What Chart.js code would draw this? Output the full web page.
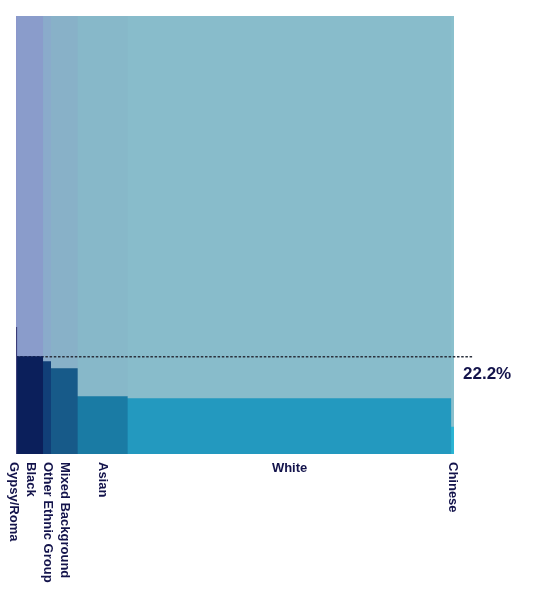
<!DOCTYPE html>
<html>
<head>
<meta charset="utf-8">
<script src="https://cdn.jsdelivr.net/npm/chart.js@4"></script>
<style>
html,body{margin:0;padding:0;background:#fff;}
#wrap{width:540px;height:600px;}
</style>
</head>
<body>
<div id="wrap"><canvas id="c" width="540" height="600"></canvas></div>
<script>
// ---- data ----
const categories = ['Gypsy/Roma','Black','Other Ethnic Group','Mixed Background','Asian','White','Chinese'];
const popShare = [0.3, 5.9, 1.8, 6.1, 11.4, 73.8, 0.6];   // width of each column (share of population, %)
const rates = [29.0, 22.3, 21.2, 19.6, 13.2, 12.7, 6.2];   // height of each column (%)
const averageRate = 22.2;
const averageLabel = '22.2%';
const fullHeight = 100;

// ---- styles ----
const darkColors = ['#3b3d78','#0b1f5b','#113f78','#175a89','#1a7ba4','#2399bf','#2bb4d3'];
const lightColors = ['#8c97cc','#8a9ccb','#8aabcb','#88b1c8','#87b8c9','#88bccb','#8ac0cd'];
const textColor = '#13134b';

const total = popShare.reduce((a,b)=>a+b,0);
const starts = [];
let acc = 0;
popShare.forEach(w => { starts.push(acc); acc += w; });
const ends = popShare.map((w,i) => starts[i] + w);
const n = categories.length;

const datasets = [];
// foreground value columns: each spans from the left edge to its own end; taller (left) columns
// are drawn on top, so each column shows exactly over its own width with no seams
categories.forEach((c,i) => {
  datasets.push({
    label: c,
    data: [{x: 0, y: rates[i]}, {x: ends[i], y: rates[i]}],
    fill: 'origin', backgroundColor: darkColors[i], borderWidth: 0, pointRadius: 0, order: 1 + i
  });
});
// average dashed line
datasets.push({
  label: 'average',
  data: [{x: 0, y: averageRate}, {x: total * 1.042, y: averageRate}],
  fill: false, borderColor: '#2c323e', borderWidth: 1.5, borderDash: [2.5, 1.7], pointRadius: 0, order: n + 1, clip: false
});
// background full-height columns
categories.forEach((c,i) => {
  datasets.push({
    label: c + ' bg',
    data: [{x: 0, y: fullHeight}, {x: ends[i], y: fullHeight}],
    fill: 'origin', backgroundColor: lightColors[i], borderWidth: 0, pointRadius: 0, order: n + 2 + i
  });
});

const labelPlugin = {
  id: 'labels',
  afterDraw(chart) {
    const ctx = chart.ctx;
    const xs = chart.scales.x, ys = chart.scales.y;
    const area = chart.chartArea;
    ctx.save();
    ctx.fillStyle = textColor;
    ctx.font = 'bold 13px "Liberation Sans", Arial, sans-serif';
    const pos = categories.map((c,i) => xs.getPixelForValue(starts[i] + popShare[i]/2));
    const horiz = categories.map((c,i) => (xs.getPixelForValue(ends[i]) - xs.getPixelForValue(starts[i])) > ctx.measureText(c).width + 20);
    for (let i = pos.length - 2; i >= 0; i--) {
      if (!horiz[i] && !horiz[i+1]) pos[i] = Math.min(pos[i], pos[i+1] - 16.5);
    }
    const top = area.bottom + 8;
    categories.forEach((c,i) => {
      if (horiz[i]) {
        ctx.textAlign = 'center'; ctx.textBaseline = 'top';
        ctx.fillText(c, pos[i], top);
      } else {
        ctx.save();
        ctx.translate(pos[i], top);
        ctx.rotate(Math.PI/2);
        ctx.textAlign = 'left'; ctx.textBaseline = 'middle';
        ctx.fillText(c, 0, 0);
        ctx.restore();
      }
    });
    ctx.font = 'bold 17px "Liberation Sans", Arial, sans-serif';
    ctx.textAlign = 'left'; ctx.textBaseline = 'middle';
    ctx.fillText(averageLabel, area.right + 9, ys.getPixelForValue(averageRate) + 18);
    ctx.restore();
  }
};

new Chart(document.getElementById('c'), {
  type: 'line',
  data: { datasets },
  options: {
    responsive: false,
    animation: false,
    devicePixelRatio: 1,
    layout: { padding: { left: 16, top: 16, right: 86, bottom: 146 } },
    plugins: { legend: { display: false }, tooltip: { enabled: false } },
    scales: {
      x: { type: 'linear', min: 0, max: total, display: false },
      y: { type: 'linear', min: 0, max: fullHeight, display: false }
    }
  },
  plugins: [labelPlugin]
});
</script>
</body>
</html>
